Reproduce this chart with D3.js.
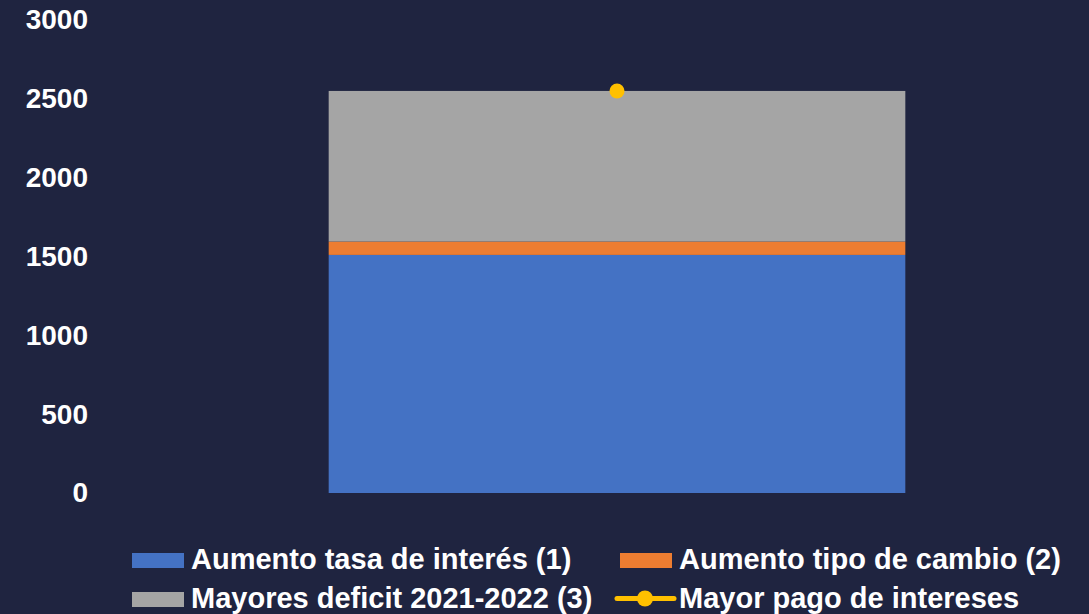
<!DOCTYPE html>
<html>
<head>
<meta charset="utf-8">
<script src="https://cdn.jsdelivr.net/npm/d3@7"></script>
<style>
  html, body { margin: 0; padding: 0; background: #1f2440; }
  svg { display: block; }
  text { font-family: "Liberation Sans", Arial, sans-serif; font-weight: bold; fill: #ffffff; }
</style>
</head>
<body>
<svg id="chart" width="1089" height="614"></svg>
<script>
const categories = ["Total"];
const seriesNames = ["Aumento tasa de interés (1)", "Aumento tipo de cambio (2)", "Mayores deficit 2021-2022 (3)"];
const tasaInteres = [1510];
const tipoCambio = [85];
const deficit = [955];
const mayorPago = [2550];
const lineName = "Mayor pago de intereses";
const yTicks = [0, 500, 1000, 1500, 2000, 2500, 3000];
const colors = ["#4472c4", "#ed7d31", "#a5a5a5"];
const lineColor = "#ffc000";

const svg = d3.select("#chart");

const y = d3.scaleLinear().domain([0, 3000]).range([493, 20]);
const x = d3.scaleBand().domain(categories).range([193, 1041]).paddingInner(0.32).paddingOuter(0.16);

// stack data
const rows = categories.map((c, i) => ({cat: c, a: tasaInteres[i], b: tipoCambio[i], c: deficit[i]}));
const stack = d3.stack().keys(["a", "b", "c"])(rows);

svg.append("g").selectAll("g").data(stack).join("g")
  .attr("fill", (d, i) => colors[i])
  .selectAll("rect").data(d => d).join("rect")
  .attr("x", d => x(d.data.cat))
  .attr("width", x.bandwidth())
  .attr("y", d => y(d[1]))
  .attr("height", d => y(d[0]) - y(d[1]));

// Y axis labels
const yAxis = d3.axisLeft(y).tickValues(yTicks).tickSize(0).tickPadding(0).tickFormat(d3.format("d"));
const ag = svg.append("g").attr("transform", "translate(88,0)").call(yAxis);
ag.select(".domain").remove();
ag.selectAll("text")
  .attr("fill", "#ffffff")
  .style("font-size", "28px")
  .style("font-family", "'Liberation Sans', Arial, sans-serif")
  .style("font-weight", "bold")
  .attr("dy", "0.32em");

// line series (single point)
const line = d3.line().x((d, i) => x(categories[i]) + x.bandwidth() / 2).y(d => y(d));
svg.append("path").datum(mayorPago).attr("d", line).attr("stroke", lineColor).attr("stroke-width", 4).attr("fill", "none");
svg.append("g").selectAll("circle").data(mayorPago).join("circle")
  .attr("cx", (d, i) => x(categories[i]) + x.bandwidth() / 2)
  .attr("cy", d => y(d))
  .attr("r", 7.5)
  .attr("fill", lineColor);

// Legend
const legend = svg.append("g");
const items = [
  {name: seriesNames[0], type: "rect", color: colors[0], x: 132, y: 553},
  {name: seriesNames[1], type: "rect", color: colors[1], x: 620, y: 553},
  {name: seriesNames[2], type: "rect", color: colors[2], x: 132, y: 592},
  {name: lineName, type: "line", color: lineColor, x: 620, y: 592}
];
items.forEach(it => {
  const g = legend.append("g");
  if (it.type === "rect") {
    g.append("rect").attr("x", it.x).attr("y", it.y).attr("width", 52).attr("height", 15).attr("fill", it.color);
  } else {
    g.append("line").attr("x1", it.x - 3).attr("x2", it.x + 54).attr("y1", it.y + 6.5).attr("y2", it.y + 6.5)
      .attr("stroke", it.color).attr("stroke-width", 5).attr("stroke-linecap", "round");
    g.append("circle").attr("cx", it.x + 25).attr("cy", it.y + 6.5).attr("r", 8).attr("fill", it.color);
  }
  g.append("text").attr("x", it.x + 59).attr("y", it.y + 16)
    .style("font-size", "29px").text(it.name);
});
</script>
</body>
</html>
